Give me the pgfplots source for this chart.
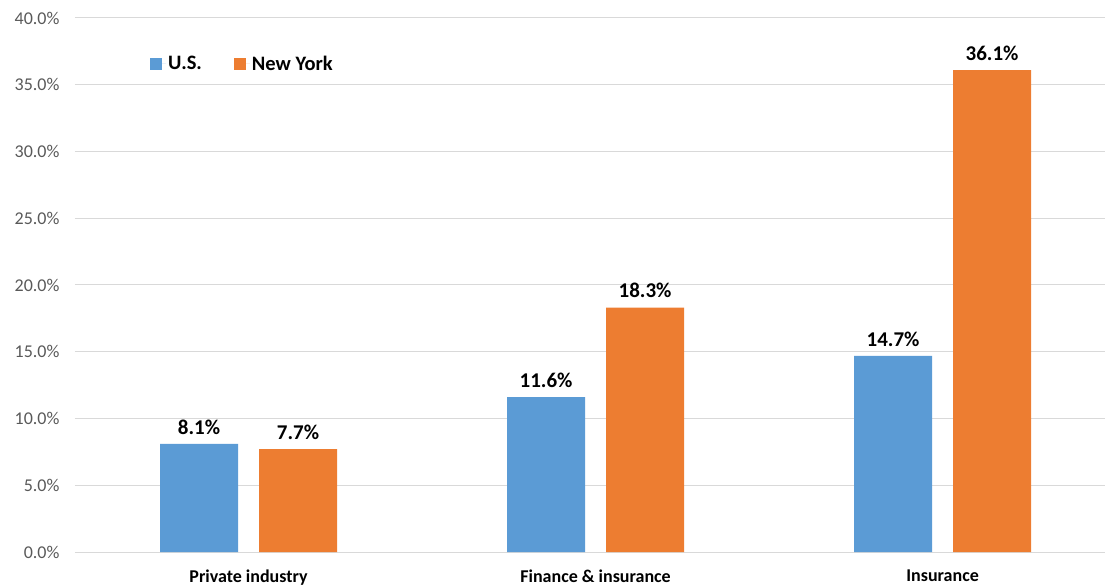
\documentclass[border=0pt]{standalone}
\usepackage{fontspec}
\setmainfont{Carlito}
\usepackage{pgfplots}
\pgfplotsset{compat=1.18}
\definecolor{usblue}{HTML}{5B9BD5}
\definecolor{nyorange}{HTML}{ED7D31}
\definecolor{gridgray}{HTML}{D9D9D9}
\definecolor{ticktext}{HTML}{595959}
\begin{document}
\begin{tikzpicture}
\useasboundingbox (-75pt,-34pt) rectangle (1030pt,552pt);
\begin{axis}[
  scale only axis, width=1030pt, height=534pt,
  ymin=0, ymax=40, ytick={0,5,...,40},
  xmin=-0.5, xmax=2.468,
  xtick={0,1,2}, xticklabels={Private industry, Finance \& insurance, Insurance},
  ybar=21pt, bar width=78pt,
  axis line style={draw=none},
  major tick length=0pt,
  ymajorgrids, grid style={gridgray, line width=1pt},
  /pgf/number format/assume math mode=true,
  yticklabel={\pgfmathprintnumber[fixed,fixed zerofill,precision=1]{\tick}\%},
  yticklabel style={font=\fontsize{18}{20}\selectfont, text=ticktext, xshift=-12pt},
  xticklabel style={font=\bfseries\fontsize{18}{20}\selectfont, text=black, yshift=-14pt},
  nodes near coords={\pgfmathprintnumber[fixed,fixed zerofill,precision=1]{\pgfplotspointmeta}\%},
  nodes near coords style={font=\bfseries\fontsize{21}{24}\selectfont, text=black, yshift=6pt},
  legend columns=2,
  legend style={at={(0.0728,0.914)}, anchor=west, draw=none, fill=none,
    font=\bfseries\fontsize{20.5}{23}\selectfont,
    /tikz/every even column/.append style={column sep=30pt},
    inner sep=0pt},
  legend image code/.code={\fill[#1] (0pt,-6pt) rectangle (12pt,6pt); \path (0pt,0pt) -- (16pt,0pt);},
]
\addplot[fill=usblue, draw=none] coordinates {(0,8.1) (1,11.6) (2,14.7)};
\addplot[fill=nyorange, draw=none] coordinates {(0,7.7) (1,18.3) (2,36.1)};
\legend{U.S., New York}
\end{axis}
\end{tikzpicture}
\end{document}
